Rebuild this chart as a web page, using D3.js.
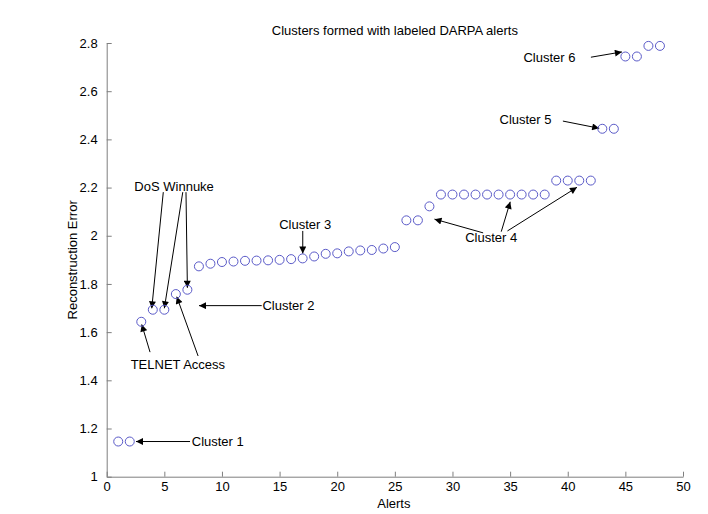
<!DOCTYPE html>
<html>
<head>
<meta charset="utf-8">
<script src="https://cdn.jsdelivr.net/npm/d3@7"></script>
<style>
  html, body { margin: 0; padding: 0; background: #ffffff; }
  svg { display: block; font-family: "Liberation Sans", Arial, Helvetica, sans-serif; }
</style>
</head>
<body>
<svg id="chart" width="708" height="514"></svg>
<script>
// ---- data ----
const alerts = d3.range(1, 49);
const reconstructionError = [
  1.146, 1.146, 1.643, 1.693, 1.693, 1.758, 1.776, 1.873, 1.884, 1.891,
  1.893, 1.896, 1.897, 1.898, 1.900, 1.903, 1.906, 1.914, 1.925, 1.927,
  1.935, 1.939, 1.941, 1.947, 1.953, 2.064, 2.064, 2.122, 2.171, 2.171,
  2.171, 2.171, 2.171, 2.171, 2.171, 2.171, 2.171, 2.171, 2.229, 2.229,
  2.229, 2.229, 2.444, 2.444, 2.744, 2.744, 2.788, 2.788
];
const xTicks = [0, 5, 10, 15, 20, 25, 30, 35, 40, 45, 50];
const yTicks = [1, 1.2, 1.4, 1.6, 1.8, 2, 2.2, 2.4, 2.6, 2.8];
const titleText = "Clusters formed with labeled DARPA alerts";
const xLabel = "Alerts";
const yLabel = "Reconstruction Error";
// annotation labels (data coordinates)
const labelTexts = ["Cluster 1", "Cluster 2", "TELNET Access", "DoS Winnuke", "Cluster 3", "Cluster 4", "Cluster 5", "Cluster 6"];
const labelX = [7.38, 13.51, 2.08, 2.40, 14.96, 31.10, 34.08, 36.16];
const labelY = [1.145, 1.710, 1.466, 2.206, 2.048, 1.993, 2.483, 2.740];
// arrows: [x0, y0, x1(tip), y1(tip)] in data coordinates
const arrowsData = [
  [7.23, 1.146, 2.54, 1.146],
  [13.45, 1.710, 8.01, 1.710],
  [3.76, 1.517, 3.04, 1.632],
  [7.93, 1.501, 6.08, 1.747],
  [4.91, 2.181, 3.91, 1.699],
  [6.60, 2.181, 5.00, 1.699],
  [6.88, 2.181, 7.00, 1.784],
  [17.01, 2.020, 17.01, 1.926],
  [32.66, 2.012, 28.44, 2.069],
  [34.23, 2.017, 35.01, 2.141],
  [34.77, 2.020, 40.80, 2.201],
  [39.58, 2.476, 42.73, 2.446],
  [42.01, 2.741, 44.70, 2.763]
];

// ---- layout ----
const svg = d3.select("#chart");
const mLeft = 106.7, mRight = 683, mTop = 43, mBottom = 476.7;
const x = d3.scaleLinear().domain([0, 50]).range([mLeft, mRight]);
const y = d3.scaleLinear().domain([1, 2.8]).range([mBottom, mTop]);
const axisColor = "#7f7f7f";
const fontSize = 13;

// x axis
const gx = svg.append("g").attr("transform", `translate(0,${mBottom})`)
  .call(d3.axisBottom(x).tickValues(xTicks).tickFormat(d3.format("d")).tickSizeInner(-5).tickSizeOuter(0).tickPadding(6));
gx.select(".domain").attr("stroke", axisColor);
gx.selectAll(".tick line").attr("stroke", axisColor);
gx.selectAll(".tick text").attr("fill", "#000").attr("font-size", fontSize)
  .attr("font-family", "Liberation Sans, Arial, sans-serif").attr("y", 5).attr("dy", "0.71em");

// y axis
const gy = svg.append("g").attr("transform", `translate(${mLeft},0)`)
  .call(d3.axisLeft(y).tickValues(yTicks).tickFormat(d => String(+d.toFixed(1))).tickSizeInner(-5).tickSizeOuter(0).tickPadding(9));
gy.select(".domain").attr("stroke", axisColor);
gy.selectAll(".tick line").attr("stroke", axisColor);
gy.selectAll(".tick text").attr("fill", "#000").attr("font-size", fontSize)
  .attr("font-family", "Liberation Sans, Arial, sans-serif");

// title & labels
svg.append("text").attr("x", (mLeft + mRight) / 2).attr("y", 30).attr("dy", "0.35em")
  .attr("text-anchor", "middle").attr("font-size", fontSize).text(titleText);
svg.append("text").attr("x", (mLeft + mRight) / 2 - 1).attr("y", 503).attr("dy", "0.35em")
  .attr("text-anchor", "middle").attr("font-size", fontSize).text(xLabel);
svg.append("text").attr("transform", `translate(72,${(mTop + mBottom) / 2}) rotate(-90)`)
  .attr("dy", "0.35em").attr("text-anchor", "middle").attr("font-size", fontSize).text(yLabel);

// arrowhead marker
svg.append("defs").append("marker")
  .attr("id", "ah").attr("viewBox", "0 0 10 10").attr("refX", 10).attr("refY", 5)
  .attr("markerUnits", "userSpaceOnUse").attr("markerWidth", 10).attr("markerHeight", 7)
  .attr("orient", "auto")
  .append("path").attr("d", "M0,0 L10,5 L0,10 Z").attr("fill", "#000");

// arrows
svg.append("g").selectAll("line").data(arrowsData).join("line")
  .attr("x1", d => x(d[0])).attr("y1", d => y(d[1]))
  .attr("x2", d => x(d[2])).attr("y2", d => y(d[3]))
  .attr("stroke", "#000").attr("stroke-width", 1)
  .attr("marker-end", "url(#ah)");

// annotation texts
svg.append("g").selectAll("text").data(labelTexts).join("text")
  .attr("x", (d, i) => x(labelX[i])).attr("y", (d, i) => y(labelY[i]))
  .attr("dy", "0.35em").attr("font-size", fontSize).attr("fill", "#000").text(d => d);

// points
svg.append("g").selectAll("circle").data(alerts).join("circle")
  .attr("cx", d => x(d)).attr("cy", (d, i) => y(reconstructionError[i]))
  .attr("r", 4.5).attr("fill", "none").attr("stroke", "#5a5ac8").attr("stroke-width", 1);
</script>
</body>
</html>
